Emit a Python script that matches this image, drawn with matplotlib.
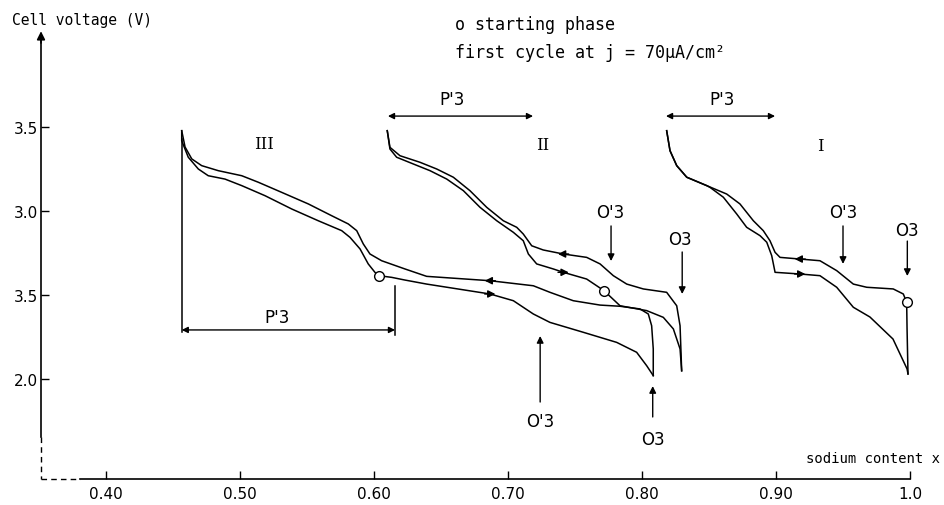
import matplotlib
matplotlib.use('Agg')
import matplotlib.pyplot as plt

# cycle III (starts at x ~ 0.60)
x_III_dis = [0.4565, 0.4565, 0.4614, 0.4689, 0.4763, 0.4888, 0.5013, 0.5187, 0.5386, 0.5584, 0.5759, 0.5821,
             0.5896, 0.5957, 0.6007, 0.6037, 0.6132, 0.6231, 0.6393, 0.6866, 0.7040, 0.7189, 0.7313, 0.7562,
             0.7811, 0.7960, 0.8035, 0.8084]
v_III_dis = [3.478, 3.418, 3.320, 3.250, 3.210, 3.190, 3.151, 3.091, 3.012, 2.942, 2.883, 2.843,
             2.774, 2.685, 2.635, 2.615, 2.605, 2.589, 2.565, 2.506, 2.466, 2.387, 2.337, 2.278,
             2.218, 2.159, 2.079, 2.020]
x_III_ch = [0.4565, 0.4590, 0.4640, 0.4714, 0.4838, 0.5013, 0.5137, 0.5311, 0.5510, 0.5684, 0.5808, 0.5871,
            0.5920, 0.5970, 0.6057, 0.6231, 0.6393, 0.6866, 0.7189, 0.7313, 0.7487, 0.7687, 0.7836, 0.7985,
            0.8047, 0.8072, 0.8084, 0.8084]
v_III_ch = [3.478, 3.381, 3.310, 3.270, 3.240, 3.210, 3.171, 3.111, 3.042, 2.972, 2.923, 2.883,
            2.804, 2.744, 2.704, 2.655, 2.611, 2.585, 2.555, 2.516, 2.466, 2.440, 2.433, 2.417,
            2.387, 2.317, 2.179, 2.020]

# cycle II (starts at x ~ 0.77)
x_II_dis = [0.6099, 0.6119, 0.6169, 0.6293, 0.6418, 0.6543, 0.6667, 0.6791, 0.6916, 0.7040, 0.7114, 0.7152,
            0.7214, 0.7338, 0.7413, 0.7587, 0.7662, 0.7716, 0.7836, 0.8035, 0.8159, 0.8234, 0.8284, 0.8296]
v_II_dis = [3.478, 3.369, 3.320, 3.280, 3.240, 3.190, 3.121, 3.022, 2.942, 2.873, 2.823, 2.744,
            2.685, 2.655, 2.635, 2.595, 2.555, 2.526, 2.436, 2.407, 2.367, 2.298, 2.179, 2.049]
x_II_ch = [0.6099, 0.6119, 0.6194, 0.6343, 0.6468, 0.6592, 0.6716, 0.6841, 0.6965, 0.7065, 0.7114, 0.7177,
           0.7263, 0.7413, 0.7587, 0.7687, 0.7786, 0.7886, 0.8010, 0.8184, 0.8259, 0.8284, 0.8296]
v_II_ch = [3.478, 3.379, 3.329, 3.290, 3.250, 3.201, 3.121, 3.022, 2.942, 2.903, 2.863, 2.793,
           2.768, 2.744, 2.724, 2.685, 2.615, 2.565, 2.536, 2.516, 2.436, 2.317, 2.049]

# cycle I (starts at x ~ 1.0)
x_I_dis = [0.8184, 0.8209, 0.8259, 0.8334, 0.8483, 0.8507, 0.8607, 0.8707, 0.8781, 0.8881, 0.8931, 0.8968,
           0.8993, 0.9179, 0.9328, 0.9453, 0.9577, 0.9701, 0.9873, 0.9978, 0.9985]
v_I_dis = [3.478, 3.359, 3.270, 3.201, 3.151, 3.141, 3.082, 2.982, 2.903, 2.853, 2.814, 2.734,
           2.635, 2.625, 2.615, 2.546, 2.427, 2.369, 2.238, 2.060, 2.030]
x_I_ch = [0.8184, 0.8209, 0.8259, 0.8334, 0.8483, 0.8632, 0.8731, 0.8831, 0.8905, 0.8955, 0.8993, 0.9030,
          0.9179, 0.9328, 0.9453, 0.9577, 0.9677, 0.9875, 0.9950, 0.9975, 0.9978, 0.9985]
v_I_ch = [3.478, 3.359, 3.270, 3.201, 3.151, 3.101, 3.042, 2.942, 2.883, 2.823, 2.754, 2.724,
          2.714, 2.704, 2.645, 2.565, 2.546, 2.536, 2.506, 2.457, 2.300, 2.030]

# starting phase points
start_x = [0.6037, 0.7716, 0.9975]
start_v = [2.615, 2.526, 2.457]

# arrows on the curves: (x, v, direction)
flow_arrows = [(0.6866, 2.585, -1), (0.6866, 2.506, 1),
               (0.7413, 2.744, -1), (0.7413, 2.635, 1),
               (0.9179, 2.714, -1), (0.9179, 2.625, 1)]

xticks = [0.4, 0.5, 0.6, 0.7, 0.8, 0.9, 1.0]
xtick_labels = ['0.40', '0.50', '0.60', '0.70', '0.80', '0.90', '1.0']
yticks = [2.0, 2.5, 3.0, 3.5]
ytick_labels = ['2.0', '3.5', '3.0', '3.5']

MONO = 'DejaVu Sans Mono'

fig = plt.figure(figsize=(9.44, 5.06), dpi=100)
ax = fig.add_axes([0, 0, 1, 1])
ax.set_xlim(0.32090, 1.02537)
ax.set_ylim(1.2500, 4.2619)
ax.patch.set_alpha(0)

ln = dict(color='black', lw=1.1)
for xs, vs in [(x_III_dis, v_III_dis), (x_III_ch, v_III_ch), (x_II_dis, v_II_dis),
               (x_II_ch, v_II_ch), (x_I_dis, v_I_dis), (x_I_ch, v_I_ch)]:
    ax.plot(xs, vs, solid_joinstyle='round', **ln)

ax.plot(start_x, start_v, 'o', ms=7, mfc='white', mec='black', mew=1.0, zorder=5)

for x, v, d in flow_arrows:
    ax.annotate('', xy=(x + d * 0.004, v), xytext=(x - d * 0.004, v),
                arrowprops=dict(arrowstyle='-|>', color='black', lw=1.0, mutation_scale=11,
                                shrinkA=0, shrinkB=0))

# axes
ax.spines['top'].set_visible(False)
ax.spines['right'].set_visible(False)
ax.spines['left'].set_position(('data', 0.3515))
ax.spines['bottom'].set_position(('data', 1.4048))
ax.spines['left'].set_bounds(1.655, 4.03)
ax.spines['bottom'].set_bounds(0.3806, 1.0)
ax.spines['left'].set_linewidth(1.2)
ax.spines['bottom'].set_linewidth(1.2)
ax.set_xticks(xticks, xtick_labels)
ax.set_yticks(yticks, ytick_labels)
ax.tick_params(axis='both', direction='in', length=6, width=1.0, labelsize=11)
ax.tick_params(axis='x', pad=5)
ax.tick_params(axis='y', pad=2)
ax.plot([0.3515, 0.3515], [1.655, 1.4048], color='black', lw=1.0, ls=(0, (4, 3)))
ax.plot([0.3515, 0.3806], [1.4048, 1.4048], color='black', lw=1.0, ls=(0, (4, 3)))
ax.annotate('', xy=(0.3515, 4.07), xytext=(0.3515, 4.0),
            arrowprops=dict(arrowstyle='-|>', color='black', lw=1.2, mutation_scale=12,
                            shrinkA=0, shrinkB=0))

fig.text(12 / 944, 1 - 20 / 506, 'Cell voltage (V)', family=MONO, fontsize=10.5, va='center')
fig.text(940 / 944, 1 - 459 / 506, 'sodium content x', family=MONO, fontsize=10, va='center', ha='right')
fig.text(455 / 944, 1 - 25 / 506, 'o starting phase', family=MONO, fontsize=12, va='center')
fig.text(455 / 944, 1 - 53 / 506, 'first cycle at j = 70μA/cm²', family=MONO, fontsize=12, va='center')

# roman numerals
for x, v, s in [(0.5179, 3.399, 'III'), (0.7261, 3.393, 'II'), (0.9328, 3.387, 'I')]:
    ax.text(x, v, s, family='DejaVu Serif', fontsize=12, ha='center', va='center')

# P'3 ranges
dbl = dict(arrowstyle='<|-|>', color='black', lw=1.0, mutation_scale=9, shrinkA=0, shrinkB=0)
ax.annotate('', xy=(0.6104, 3.565), xytext=(0.7187, 3.565), arrowprops=dbl)
ax.text(0.6582, 3.667, "P'3", fontsize=12, ha='center', va='center')
ax.annotate('', xy=(0.8179, 3.565), xytext=(0.8993, 3.565), arrowprops=dbl)
ax.text(0.8597, 3.667, "P'3", fontsize=12, ha='center', va='center')
ax.plot([0.4565, 0.4565], [3.43, 2.280], **ln)
ax.plot([0.6157, 0.6157], [2.554, 2.262], **ln)
ax.annotate('', xy=(0.4565, 2.292), xytext=(0.6157, 2.292), arrowprops=dbl)
ax.text(0.5276, 2.369, "P'3", fontsize=12, ha='center', va='center')

# phase markers
one = dict(arrowstyle='-|>', color='black', lw=1.0, mutation_scale=10, shrinkA=0, shrinkB=0)
marks = [("O'3", 0.776, 2.994, (0.7769, 2.911), (0.7769, 2.702)),
         ("O3", 0.8284, 2.833, (0.830, 2.756), (0.830, 2.506)),
         ("O'3", 0.724, 1.750, (0.724, 1.863), (0.724, 2.256)),
         ("O3", 0.808, 1.643, (0.808, 1.774), (0.808, 1.958)),
         ("O'3", 0.950, 2.994, (0.950, 2.911), (0.950, 2.685)),
         ("O3", 0.998, 2.887, (0.998, 2.821), (0.998, 2.613))]
for s, tx, tv, tail, tip in marks:
    ax.text(tx, tv, s, fontsize=12, ha='center', va='center')
    ax.annotate('', xy=tip, xytext=tail, arrowprops=one)

fig.savefig('out.png', dpi=100)
